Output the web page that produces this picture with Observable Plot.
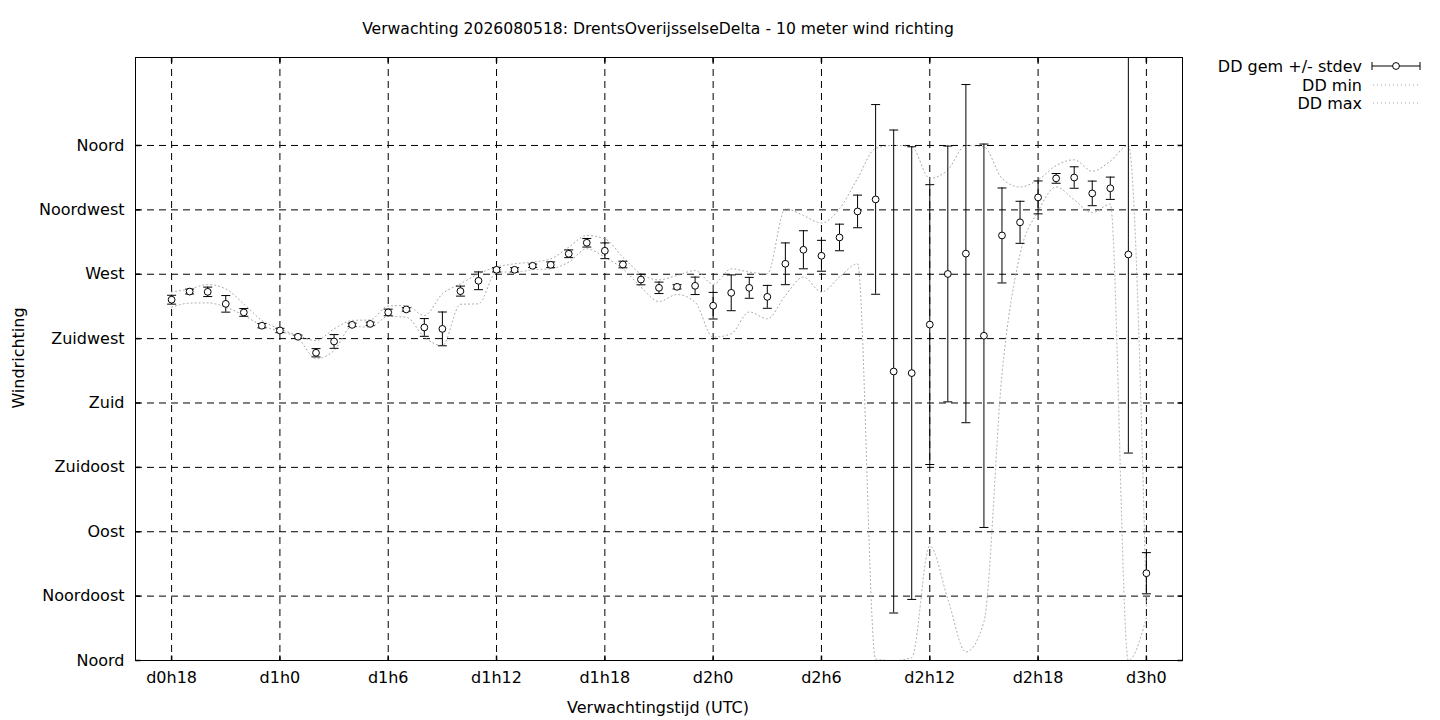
<!DOCTYPE html>
<html>
<head>
<meta charset="utf-8">
<script src="https://cdn.jsdelivr.net/npm/d3@7"></script>
<script src="https://cdn.jsdelivr.net/npm/@observablehq/plot@0.6"></script>
<style>
  body { margin: 0; background: #fff; }
  svg text { font-family: "DejaVu Sans", sans-serif; }
</style>
</head>
<body>
<div id="chart"></div>
<script>
// Forecast hour (hours since d0h0)
const hours = [18,19,20,21,22,23,24,25,26,27,28,29,30,31,32,33,34,35,36,37,38,39,40,41,42,43,44,45,
               46,47,48,49,50,51,52,53,54,55,56,57,58,59,60,61,62,63,64,65,66,67,68,69,70,71,72];
// DD gem (mean wind direction, degrees)
const ddMean = [252.2,257.9,257.7,249.3,243.3,234.0,230.7,226.3,215.1,223.0,234.6,235.3,243.3,245.4,
                232.8,231.8,258.2,265.4,273.1,273.1,275.9,276.6,284.3,292.0,286.4,276.8,266.3,260.5,
                261.2,261.9,248.0,257.0,260.5,254.2,277.3,287.1,282.9,295.7,313.9,322.3,202.0,200.9,
                234.8,270.2,284.4,227.0,297.1,306.3,323.7,337.0,337.6,326.5,330.1,283.8,61.0];
// stdev
const ddStdev = [3.1,1.7,3.3,5.8,2.7,1.5,1.5,1.2,2.9,4.8,1.2,1.2,2.3,1.2,6.2,11.8,3.5,6.2,1.5,1.5,
                 1.2,2.0,2.7,3.0,5.5,2.3,3.7,4.0,1.5,6.1,9.3,12.5,7.3,8.0,14.6,13.3,10.8,9.3,11.4,
                 66.3,168.8,158.2,97.8,89.4,118.2,134.0,33.2,14.7,11.5,3.4,7.5,8.6,7.8,138.8,14.4];
// DD min
const ddMin = [247.0,249.8,250.0,247.0,241.2,234.2,230.0,225.3,210.9,216.7,233.5,233.0,240.5,240.0,
               226.0,220.2,249.0,249.3,271.5,271.5,273.1,273.8,278.5,287.8,281.9,273.8,261.0,250.9,
               255.8,250.5,226.0,228.4,243.6,238.9,255.1,268.0,257.6,268.0,277.3,1,0,2,
               80,43,6,27,200,284,314,331,322,313,319,0,30];
// DD max
const ddMax = [257.6,259.7,262.8,259.7,249.3,237.7,231.8,227.2,223.7,231.8,237.7,238.1,247.8,248.1,
               241.2,256.3,263.3,270.3,275.0,277.3,278.5,280.8,288.9,297.1,294.8,281.9,270.3,266.1,
               269.1,272.6,263,273.8,271.5,270.3,315.8,311.1,305.8,315.8,337,358,360,359,
               337,343,360,359,337,331,336,346,350,342,349,360,38];

const xTicks = [18,24,30,36,42,48,54,60,66,72];
const xTickLabels = ["d0h18","d1h0","d1h6","d1h12","d1h18","d2h0","d2h6","d2h12","d2h18","d3h0"];
const yTicks = [0,45,90,135,180,225,270,315,360];
const yTickLabels = ["Noord","Noordoost","Oost","Zuidoost","Zuid","Zuidwest","West","Noordwest","Noord"];

const titleText = "Verwachting 2026080518: DrentsOverijsselseDelta - 10 meter wind richting";
const xLabelText = "Verwachtingstijd (UTC)";
const yLabelText = "Windrichting";
const legendLabels = ["DD gem +/- stdev", "DD min", "DD max"];

const data = hours.map((h, i) => ({h, mean: ddMean[i], sd: ddStdev[i], min: ddMin[i], max: ddMax[i]}));
const xLab = new Map(xTicks.map((v, i) => [v, xTickLabels[i]]));
const yLab = new Map(yTicks.map((v, i) => [v, yTickLabels[i]]));

const xDomain = [16, 74];
const yDomain = [0, 421.5];

const capSym = {draw(ctx) { ctx.moveTo(-4.5, 0); ctx.lineTo(4.5, 0); }};
const tickL = {draw(ctx) { ctx.moveTo(0, 0); ctx.lineTo(5, 0); }};
const tickR = {draw(ctx) { ctx.moveTo(-5, 0); ctx.lineTo(0, 0); }};
const tickB = {draw(ctx) { ctx.moveTo(0, 0); ctx.lineTo(0, -5); }};
const tickT = {draw(ctx) { ctx.moveTo(0, 0); ctx.lineTo(0, 5); }};

const dash = "7,5";
const dotted = "1,3";
const dotColor = "#a4a4a4";

const plot = Plot.plot({
  width: 1440,
  height: 720,
  marginLeft: 135,
  marginRight: 258,
  marginTop: 57,
  marginBottom: 60,
  x: {domain: xDomain},
  y: {domain: yDomain},
  style: {fontFamily: "DejaVu Sans, sans-serif", fontSize: "16px", color: "#000", background: "#fff", overflow: "visible"},
  marks: [
    Plot.ruleY(yTicks, {stroke: "#000", strokeDasharray: dash, strokeWidth: 1}),
    Plot.ruleX(xTicks, {stroke: "#000", strokeDasharray: dash, strokeWidth: 1}),
    Plot.dot(yTicks, {x: xDomain[0], y: d => d, symbol: tickL, stroke: "#000"}),
    Plot.dot(yTicks, {x: xDomain[1], y: d => d, symbol: tickR, stroke: "#000"}),
    Plot.dot(xTicks, {x: d => d, y: yDomain[0], symbol: tickB, stroke: "#000"}),
    Plot.dot(xTicks, {x: d => d, y: yDomain[1], symbol: tickT, stroke: "#000"}),
    Plot.axisY(yTicks, {tickSize: 0, tickPadding: 11, tickFormat: d => yLab.get(d), fontSize: 16, label: null}),
    Plot.axisX(xTicks, {tickSize: 0, tickPadding: 11, tickFormat: d => xLab.get(d), fontSize: 16, label: null}),
    Plot.line(data, {x: "h", y: "min", curve: "monotone-x", stroke: dotColor, strokeDasharray: dotted, strokeWidth: 1, clip: true}),
    Plot.line(data, {x: "h", y: "max", curve: "monotone-x", stroke: dotColor, strokeDasharray: dotted, strokeWidth: 1, clip: true}),
    Plot.ruleX(data, {x: "h", y1: d => d.mean - d.sd, y2: d => d.mean + d.sd, stroke: "#000", strokeWidth: 1, clip: true}),
    Plot.dot(data, {x: "h", y: d => d.mean - d.sd, symbol: capSym, stroke: "#000", strokeWidth: 1, clip: true}),
    Plot.dot(data, {x: "h", y: d => d.mean + d.sd, symbol: capSym, stroke: "#000", strokeWidth: 1, clip: true}),
    Plot.dot(data, {x: "h", y: "mean", r: 3.4, fill: "#fff", stroke: "#000", strokeWidth: 1}),
    Plot.frame({stroke: "#000", strokeWidth: 1})
  ]
});

document.getElementById("chart").appendChild(plot);

const svg = d3.select(plot);
svg.append("text").attr("x", 658).attr("y", 29).attr("text-anchor", "middle")
  .attr("dy", "0.35em").attr("font-size", 15.6).attr("fill", "#000").text(titleText);
svg.append("text").attr("x", 658).attr("y", 707).attr("text-anchor", "middle")
  .attr("dy", "0.35em").attr("font-size", 16).attr("fill", "#000").text(xLabelText);
svg.append("text").attr("transform", "translate(18,358) rotate(-90)").attr("text-anchor", "middle")
  .attr("dy", "0.35em").attr("font-size", 16).attr("fill", "#000").text(yLabelText);

// Legend
const lg = svg.append("g");
const rowY = [66, 85, 103];
legendLabels.forEach((t, i) => {
  lg.append("text").attr("x", 1362).attr("y", rowY[i]).attr("text-anchor", "end")
    .attr("dy", "0.35em").attr("font-size", 16).attr("fill", "#000").text(t);
});
lg.append("line").attr("x1", 1372).attr("x2", 1420).attr("y1", rowY[0]).attr("y2", rowY[0]).attr("stroke", "#000");
lg.append("line").attr("x1", 1372).attr("x2", 1372).attr("y1", rowY[0] - 4).attr("y2", rowY[0] + 4).attr("stroke", "#000");
lg.append("line").attr("x1", 1420).attr("x2", 1420).attr("y1", rowY[0] - 4).attr("y2", rowY[0] + 4).attr("stroke", "#000");
lg.append("circle").attr("cx", 1396).attr("cy", rowY[0]).attr("r", 3.4).attr("fill", "#fff").attr("stroke", "#000");
[1, 2].forEach(i => {
  lg.append("line").attr("x1", 1373).attr("x2", 1419).attr("y1", rowY[i]).attr("y2", rowY[i])
    .attr("stroke", dotColor).attr("stroke-dasharray", dotted);
});
</script>
</body>
</html>
